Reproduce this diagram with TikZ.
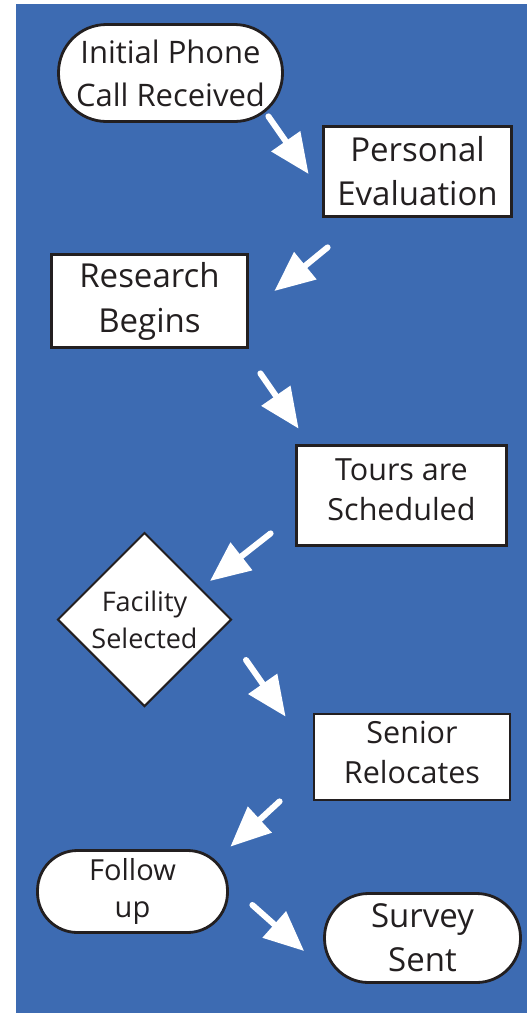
\documentclass[tikz,border=0pt]{standalone}
\usepackage{fontspec}
\setmainfont{Open Sans}
\usetikzlibrary{shapes.geometric,arrows.meta}
\definecolor{pageblue}{RGB}{61,107,178}
\definecolor{inkblack}{RGB}{35,31,32}

\begin{document}
\begin{tikzpicture}[x=1pt, y=-1pt,
    stepbox/.style={draw=inkblack, line width=2.8pt, fill=white, text=inkblack, align=center, inner sep=0pt},
    pill/.style={stepbox, rounded corners=#1},
    decision/.style={diamond, aspect=1, draw=inkblack, line width=2pt, fill=white, text=inkblack, align=center, inner sep=0pt},
    flow/.style={draw=white, line width=6pt, line cap=round, -{Triangle[length=40pt, width=34pt]}}]
    \useasboundingbox (0,0) rectangle (527,1013);
    % Blue page behind the chart
    \fill[pageblue] (16,4) rectangle (527,1013);

    % Steps, top to bottom
    \node[pill=48pt, minimum width=224pt, minimum height=97pt, font=\fontsize{31}{43}\selectfont] (call) at (170.5,73) {Initial Phone\\Call Received};
    \node[stepbox, minimum width=188pt, minimum height=90pt, font=\fontsize{33}{44}\selectfont] (eval) at (417.5,171.5) {Personal\\Evaluation};
    \node[stepbox, minimum width=196pt, minimum height=93pt, font=\fontsize{33}{45}\selectfont] (research) at (149.5,301) {Research\\Begins};
    \node[stepbox, minimum width=210pt, minimum height=100pt, text depth=12pt, font=\fontsize{30.5}{40}\selectfont] (tours) at (401.5,495.5) {Tours are\\Scheduled};
    \node[decision, minimum width=174pt, minimum height=174pt, font=\fontsize{27}{37}\selectfont] (facility) at (144.5,619.5) {Facility\\Selected};
    \node[stepbox, minimum width=196pt, minimum height=86pt, text depth=9pt, font=\fontsize{30.5}{40}\selectfont] (relocate) at (412,757) {Senior\\Relocates};
    \node[pill=40pt, minimum width=190pt, minimum height=82pt, font=\fontsize{29}{37}\selectfont] (followup) at (132.5,891.5) {Follow\\up};
    \node[pill=44pt, minimum width=196pt, minimum height=89pt, font=\fontsize{33}{44}\selectfont] (survey) at (422.5,938) {Survey\\Sent};

    % White arrows between the steps
    \draw[flow] ([shift={(-15.5,-6.5)}]call.south east) -- ([shift={(-13.5,2.5)}]eval.west);
    \draw[flow] ([shift={(5.5,29.5)}]eval.south west) -- ([shift={(25.5,-10)}]research.east);
    \draw[flow] ([shift={(11.5,24.5)}]research.south east) -- ([shift={(3.5,-15.5)}]tours.north west);
    \draw[flow] ([shift={(-24.5,-13.5)}]tours.south west) -- ([shift={(-22.5,-38.5)}]facility.east);
    \draw[flow] ([shift={(13.5,40.5)}]facility.east) -- ([shift={(-27,4)}]relocate.north west);
    \draw[flow] ([shift={(-33,0)}]relocate.south west) -- ([shift={(1.5,-2.5)}]followup.north east);
    \draw[flow] ([shift={(23.5,13.5)}]followup.east) -- ([shift={(-19,13)}]survey.west);
\end{tikzpicture}
\end{document}
